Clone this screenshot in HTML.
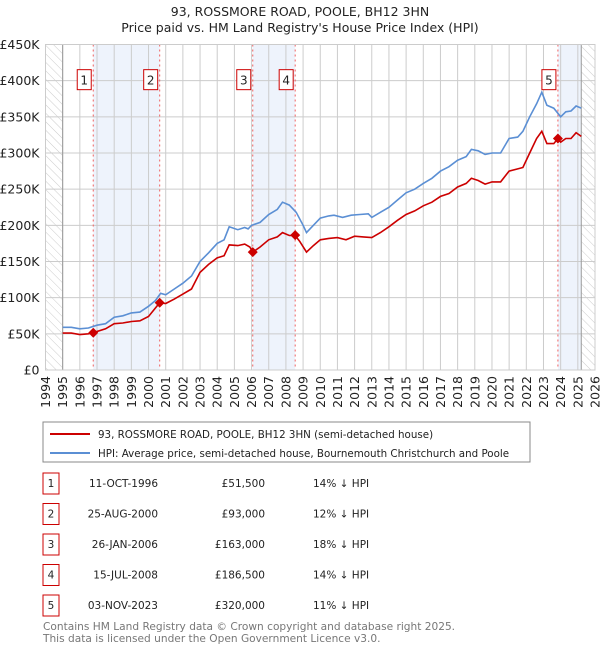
<!DOCTYPE html>
<html><head><meta charset="utf-8"><style>
body{margin:0;background:#fff;font-family:"Liberation Sans","DejaVu Sans",sans-serif;}
svg text{font-family:"DejaVu Sans","Liberation Sans",sans-serif;}
</style></head><body>
<svg id="c" width="600" height="650" xmlns="http://www.w3.org/2000/svg">
<defs><pattern id="h" width="6" height="6" patternUnits="userSpaceOnUse" patternTransform="rotate(-45)"><line x1="0" y1="0" x2="0" y2="6" stroke="#ccc" stroke-width="1"/></pattern></defs>
<text x="300" y="16" text-anchor="middle" font-size="12.5" fill="#222">93, ROSSMORE ROAD, POOLE, BH12 3HN</text>
<text x="300" y="32" text-anchor="middle" font-size="12.5" fill="#222">Price paid vs. HM Land Registry's House Price Index (HPI)</text>
<g id="plot"></g>
<rect x="43" y="422" width="487" height="40" fill="#fff" stroke="#888"/>
<line x1="50" y1="434" x2="90" y2="434" stroke="#cc0000" stroke-width="2"/>
<text x="98" y="438" font-size="10.3" fill="#222">93, ROSSMORE ROAD, POOLE, BH12 3HN (semi-detached house)</text>
<line x1="50" y1="453" x2="90" y2="453" stroke="#5b8fd4" stroke-width="2"/>
<text x="98" y="457" font-size="10.3" fill="#222">HPI: Average price, semi-detached house, Bournemouth Christchurch and Poole</text>
<g id="tbl"></g>
<text x="43" y="630" font-size="10.6" fill="#777">Contains HM Land Registry data © Crown copyright and database right 2025.</text>
<text x="43" y="642" font-size="10.6" fill="#777">This data is licensed under the Open Government Licence v3.0.</text>
</svg>
<script>
const hpiYears=[1995,1995.5,1996,1996.5,1997,1997.5,1998,1998.5,1999,1999.5,2000,2000.4,2000.7,2001,2001.5,2002,2002.5,2003,2003.5,2004,2004.4,2004.7,2005.2,2005.6,2005.8,2006,2006.5,2007,2007.5,2007.8,2008.2,2008.6,2009,2009.2,2009.6,2010,2010.5,2010.8,2011.3,2011.8,2012.3,2012.8,2013,2013.5,2014,2014.5,2015,2015.5,2016,2016.5,2017,2017.5,2018,2018.5,2018.8,2019.2,2019.6,2020,2020.5,2021,2021.5,2021.8,2022.2,2022.6,2022.9,2023.2,2023.6,2024,2024.3,2024.6,2024.9,2025.2];
const hpiVals=[59,59,57,58,62,64,73,75,79,80,88,96,106,104,112,120,130,150,162,175,180,198,194,197,195,200,204,215,222,232,228,218,200,190,200,210,213,214,211,214,215,216,211,218,225,235,245,250,258,265,275,281,290,295,305,303,298,300,300,320,322,330,350,368,384,366,362,350,357,358,365,362];
const ppYears=[1995,1995.5,1996,1996.5,1996.78,1997.5,1998,1998.5,1999,1999.5,2000,2000.65,2001,2001.5,2002,2002.5,2003,2003.5,2004,2004.4,2004.7,2005.2,2005.6,2005.9,2006.07,2006.5,2007,2007.5,2007.8,2008.2,2008.54,2008.8,2009.2,2009.6,2010,2010.5,2011,2011.5,2012,2012.5,2013,2013.5,2014,2014.5,2015,2015.5,2016,2016.5,2017,2017.5,2018,2018.5,2018.8,2019.2,2019.6,2020,2020.5,2021,2021.5,2021.8,2022.2,2022.6,2022.9,2023.2,2023.6,2023.84,2024,2024.3,2024.6,2024.9,2025.2];
const ppVals=[51,51,49,50,51.5,57,64,65,67,68,74,93,92,98,105,112,135,146,155,158,173,172,174,170,163,170,180,184,190,186,186,178,163,172,180,182,183,180,185,184,183,190,198,207,215,220,227,232,240,244,253,258,265,262,257,260,260,275,278,280,300,320,330,313,313,320,315,320,320,328,323];
const saleYears=[1996.78,2000.65,2006.07,2008.54,2023.84];
const saleVals=[51.5,93,163,186.5,320];
const saleLabels=["1","2","3","4","5"];
const saleDates=["11-OCT-1996","25-AUG-2000","26-JAN-2006","15-JUL-2008","03-NOV-2023"];
const salePrices=["£51,500","£93,000","£163,000","£186,500","£320,000"];
const salePct=["14% ↓ HPI","12% ↓ HPI","18% ↓ HPI","14% ↓ HPI","11% ↓ HPI"];
const yTicks=[0,50,100,150,200,250,300,350,400,450];
const yTickLabels=["£0","£50K","£100K","£150K","£200K","£250K","£300K","£350K","£400K","£450K"];
const xTicks=[1994,1995,1996,1997,1998,1999,2000,2001,2002,2003,2004,2005,2006,2007,2008,2009,2010,2011,2012,2013,2014,2015,2016,2017,2018,2019,2020,2021,2022,2023,2024,2025,2026];

const L=45.5,R=595,T=44.5,B=370;
const X=y=>L+(y-1994)/32*(R-L);
const Y=v=>B-v/450*(B-T);
const NS="http://www.w3.org/2000/svg";
const plot=document.getElementById('plot');
function mk(tag,at,parent){const e=document.createElementNS(NS,tag);for(const k in at)e.setAttribute(k,at[k]);(parent||plot).appendChild(e);return e;}
mk('rect',{x:L,y:T,width:R-L,height:B-T,fill:'#fff'});
const shades=[[0,1],[2,3],[4,null]];
shades.forEach((s,i)=>{const x1=X(saleYears[s[0]]),x2=s[1]===null?X(2025.2):X(saleYears[s[1]]);
const r=mk('rect',{x:x1,y:T,width:x2-x1,height:B-T,fill:'#eef3fc'});

});
const h1=mk('rect',{x:L,y:T,width:X(1995)-L,height:B-T,fill:'url(#h)'});


const h2=mk('rect',{x:X(2025.2),y:T,width:R-X(2025.2),height:B-T,fill:'url(#h)'});


yTicks.forEach((v,i)=>{mk('line',{x1:L,x2:R,y1:Y(v),y2:Y(v),stroke:'#ccc'});
const t=mk('text',{x:L-6,y:Y(v)+4.5,'text-anchor':'end','font-size':12.5,fill:'#222'});t.textContent=yTickLabels[i];

});
xTicks.forEach(yr=>{mk('line',{x1:X(yr),x2:X(yr),y1:T,y2:B,stroke:'#ccc'});
const t=mk('text',{x:0,y:0,'text-anchor':'end','font-size':12.5,fill:'#222',transform:`translate(${X(yr)+4.5},${B+6}) rotate(-90)`});t.textContent=yr;

});
mk('line',{x1:X(1995),x2:X(1995),y1:T,y2:B,stroke:'#999'});
mk('line',{x1:X(2025.2),x2:X(2025.2),y1:T,y2:B,stroke:'#999'});
saleYears.forEach((yr,i)=>{const l=mk('line',{x1:X(yr),x2:X(yr),y1:T,y2:B,stroke:'#f06060','stroke-dasharray':'2,3'});


const g=mk('g',{});


mk('rect',{x:X(yr)-16,y:Y(400)-11,width:14,height:20,fill:'#fff',stroke:'#cc0000'},g);
const t=mk('text',{x:X(yr)-9,y:Y(400)+4,'text-anchor':'middle','font-size':12,fill:'#222'},g);t.textContent=saleLabels[i];});
const pts=(xs,vs)=>xs.map((x,i)=>X(x).toFixed(1)+','+Y(vs[i]).toFixed(1)).join(' ');
const hl=mk('polyline',{points:pts(hpiYears,hpiVals),fill:'none',stroke:'#5b8fd4','stroke-width':1.6});


const pl=mk('polyline',{points:pts(ppYears,ppVals),fill:'none',stroke:'#cc0000','stroke-width':1.6});


saleYears.forEach((yr,i)=>{const cx=X(yr),cy=Y(saleVals[i]);
const d=mk('polygon',{points:`${cx},${cy-5} ${cx+5},${cy} ${cx},${cy+5} ${cx-5},${cy}`,fill:'#cc0000'});

});
mk('rect',{x:L,y:T,width:R-L,height:B-T,fill:'none',stroke:'#ccc'});
const tbl=document.getElementById('tbl');
saleLabels.forEach((lab,i)=>{const y=483+i*30.5;
const g=mk('g',{},tbl);


mk('rect',{x:43,y:y-10,width:16,height:21,fill:'#fff',stroke:'#cc0000'},g);
let t=mk('text',{x:51,y:y+4,'text-anchor':'middle','font-size':10.5,fill:'#222'},g);t.textContent=lab;
t=mk('text',{x:158,y:y+4,'text-anchor':'end','font-size':10.5,fill:'#222'},g);t.textContent=saleDates[i];
t=mk('text',{x:265,y:y+4,'text-anchor':'end','font-size':10.5,fill:'#222'},g);t.textContent=salePrices[i];
t=mk('text',{x:313,y:y+4,'font-size':10.5,fill:'#222'},g);t.textContent=salePct[i];});
</script>
</body></html>
